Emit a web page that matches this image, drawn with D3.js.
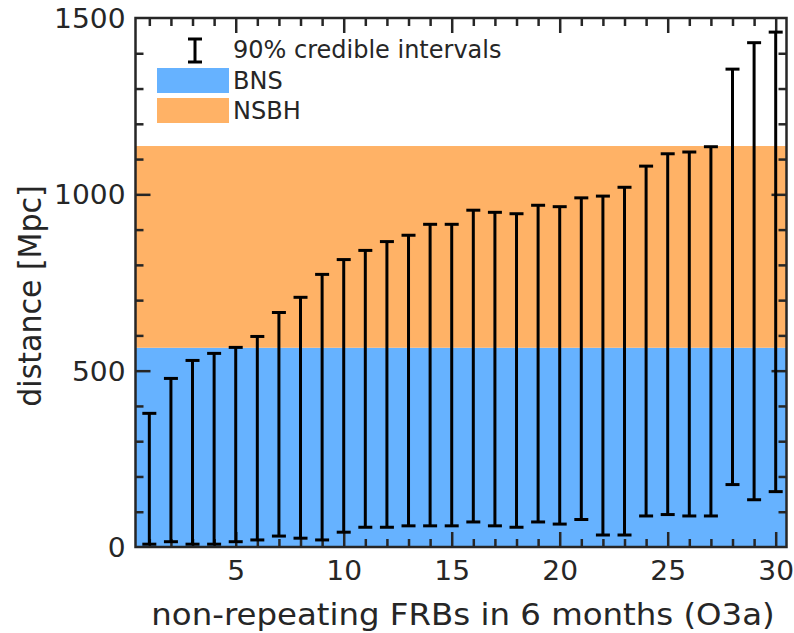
<!DOCTYPE html>
<html>
<head>
<meta charset="utf-8">
<script src="https://cdn.jsdelivr.net/npm/d3@7"></script>
<style>
  html, body { margin: 0; padding: 0; background: #fff; }
  svg { display: block; }
  text { font-family: "DejaVu Sans", sans-serif; fill: #262626; }
</style>
</head>
<body>
<svg id="chart" width="794" height="633"></svg>
<script>
// Number of non-repeating FRBs detected in 6 months (O3a)
const frbCounts = [1, 2, 3, 4, 5, 6, 7, 8, 9, 10,
                   11, 12, 13, 14, 15, 16, 17, 18, 19, 20,
                   21, 22, 23, 24, 25, 26, 27, 28, 29, 30];
// 90% credible interval bounds on distance [Mpc]
const upperMpc = [379, 478, 529, 549, 566, 597, 665, 708, 773, 815,
                  841, 866, 884, 915, 915, 955, 949, 945, 969, 965,
                  990, 995, 1020, 1080, 1115, 1120, 1135, 1355, 1430, 1460];
const lowerMpc = [8, 15, 8, 8, 15, 20, 31, 25, 20, 42,
                  56, 56, 60, 60, 60, 71, 60, 56, 71, 65,
                  78, 34, 34, 88, 92, 88, 88, 177, 134, 157];
// Detection horizons shown as shaded ranges
const bnsRange = [0, 565];
const nsbhRange = [565, 1137];
// Axis ticks
const xMajorTicks = [5, 10, 15, 20, 25, 30];
const yMajorTicks = [0, 500, 1000, 1500];
const xMinorTicks = [1, 2, 3, 4, 6, 7, 8, 9, 11, 12, 13, 14, 16, 17, 18, 19,
                     21, 22, 23, 24, 26, 27, 28, 29];
const yMinorTicks = [100, 200, 300, 400, 600, 700, 800, 900,
                     1100, 1200, 1300, 1400];

const colBNS = "#66b2ff", colNSBH = "#ffb266", axisCol = "#262626";
const stretch = 1.08; // axis text is set slightly wide

const svg = d3.select("#chart");
const L = 135.5, R = 786.5, T = 18, B = 547;

const x = d3.scaleLinear().domain([0.36, 30.5]).range([L, R]);
const y = d3.scaleLinear().domain([0, 1500]).range([B, T]);

// shaded ranges
const bands = [
  { name: "BNS", r: bnsRange, c: colBNS },
  { name: "NSBH", r: nsbhRange, c: colNSBH }
];
svg.append("g").selectAll("rect").data(bands).join("rect")
  .attr("x", L).attr("width", R - L)
  .attr("y", d => y(d.r[1]))
  .attr("height", d => y(d.r[0]) - y(d.r[1]))
  .attr("fill", d => d.c);

// axes with inward ticks on all four sides
function tickAxis(axisFn, scale, values, size, tx, ty) {
  const g = svg.append("g").attr("transform", `translate(${tx},${ty})`)
    .call(axisFn(scale).tickValues(values).tickSize(size).tickFormat(""));
  g.select(".domain").remove();
  g.selectAll("line").attr("stroke", axisCol).attr("stroke-width", 2.5);
  return g;
}
const yInner = yMajorTicks.filter(v => v > 0 && v < 1500);
tickAxis(d3.axisBottom, x, xMinorTicks, -8, 0, B);
tickAxis(d3.axisBottom, x, xMajorTicks, -15, 0, B);
tickAxis(d3.axisTop, x, xMinorTicks, -8, 0, T);
tickAxis(d3.axisTop, x, xMajorTicks, -15, 0, T);
tickAxis(d3.axisLeft, y, yMinorTicks, -8, L, 0);
tickAxis(d3.axisLeft, y, yInner, -15, L, 0);
tickAxis(d3.axisRight, y, yMinorTicks, -8, R, 0);
tickAxis(d3.axisRight, y, yInner, -15, R, 0);

svg.append("rect")
  .attr("x", L).attr("y", T).attr("width", R - L).attr("height", B - T)
  .attr("fill", "none").attr("stroke", axisCol).attr("stroke-width", 2.5);

// tick labels
const xLab = svg.append("g").attr("transform", `translate(0,${B + 13})`)
  .call(d3.axisBottom(x).tickValues(xMajorTicks).tickSize(0).tickPadding(0)
    .tickFormat(d3.format("d")));
xLab.select(".domain").remove();
xLab.selectAll("text").attr("font-size", 26).attr("dy", "0.76em")
  .attr("transform", `scale(${stretch},1)`)
  .style("font-family", "DejaVu Sans").attr("fill", axisCol);

const yLab = svg.append("g").attr("transform", `translate(${L - 10},0)`)
  .call(d3.axisLeft(y).tickValues(yMajorTicks).tickSize(0).tickPadding(0)
    .tickFormat(d3.format("d")));
yLab.select(".domain").remove();
yLab.selectAll("text").attr("font-size", 26).attr("dy", "0.36em")
  .attr("transform", `scale(${stretch},1)`)
  .style("font-family", "DejaVu Sans").attr("fill", axisCol);

// axis titles
svg.append("text")
  .attr("transform", `translate(463,625) scale(${stretch},1)`)
  .attr("text-anchor", "middle").attr("font-size", 30)
  .text("non-repeating FRBs in 6 months (O3a)");
svg.append("text")
  .attr("transform", `translate(41,296) scale(${stretch},1) rotate(-90)`)
  .attr("text-anchor", "middle").attr("font-size", 30)
  .text("distance [Mpc]");

// error bars
const capW = 14;
const bars = svg.append("g").attr("stroke", "#000").attr("stroke-width", 3);
const rows = frbCounts.map((n, i) => ({ n, lo: lowerMpc[i], hi: upperMpc[i] }));
bars.selectAll("line.stem").data(rows).join("line").attr("class", "stem")
  .attr("x1", d => x(d.n)).attr("x2", d => x(d.n))
  .attr("y1", d => y(d.lo)).attr("y2", d => y(d.hi));
bars.selectAll("line.capHi").data(rows).join("line").attr("class", "capHi")
  .attr("x1", d => x(d.n) - capW / 2).attr("x2", d => x(d.n) + capW / 2)
  .attr("y1", d => y(d.hi)).attr("y2", d => y(d.hi));
bars.selectAll("line.capLo").data(rows).join("line").attr("class", "capLo")
  .attr("x1", d => x(d.n) - capW / 2).attr("x2", d => x(d.n) + capW / 2)
  .attr("y1", d => y(d.lo)).attr("y2", d => y(d.lo));

// legend
const lg = svg.append("g");
const icoX = 195, icoT = 39, icoB = 62;
lg.append("g").attr("stroke", "#000").attr("stroke-width", 3)
  .selectAll("line").data([
    [icoX, icoT, icoX, icoB],
    [icoX - capW / 2, icoT, icoX + capW / 2, icoT],
    [icoX - capW / 2, icoB, icoX + capW / 2, icoB]
  ]).join("line")
  .attr("x1", d => d[0]).attr("y1", d => d[1]).attr("x2", d => d[2]).attr("y2", d => d[3]);
lg.append("text").attr("x", 233).attr("y", 58).attr("font-size", 24)
  .text("90% credible intervals");
lg.selectAll("rect.key").data(bands).join("rect").attr("class", "key")
  .attr("x", 157).attr("width", 72)
  .attr("y", (d, i) => 68 + i * 30).attr("height", 25)
  .attr("fill", d => d.c);
lg.selectAll("text.key").data(bands).join("text").attr("class", "key")
  .attr("x", 233).attr("y", (d, i) => 89 + i * 30).attr("font-size", 24)
  .text(d => d.name);
</script>
</body>
</html>
